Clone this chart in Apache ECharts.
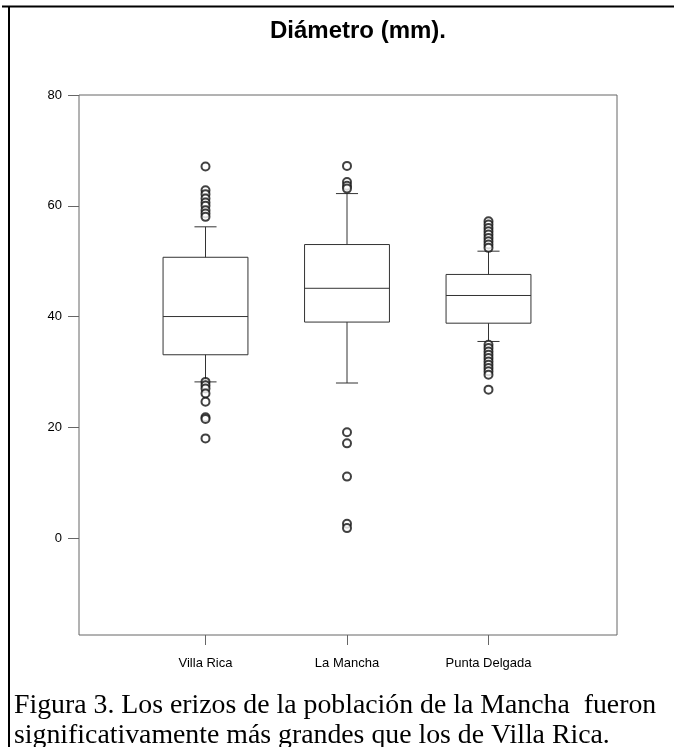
<!DOCTYPE html>
<html>
<head>
<meta charset="utf-8">
<script src="https://cdn.jsdelivr.net/npm/echarts@6/dist/echarts.min.js"></script>
<style>
html,body{margin:0;padding:0;background:#fff;}
#chart{width:674px;height:747px;}
</style>
</head>
<body>
<div id="chart"></div>
<script>
// ---- data ----
const categories = ['Villa Rica', 'La Mancha', 'Punta Delgada'];
const whiskerLow = [28.2, 28.0, 35.5];
const q1 = [33.1, 39.0, 38.8];
const median = [40.0, 45.1, 43.8];
const q3 = [50.7, 53.0, 47.6];
const whiskerHigh = [56.2, 62.2, 51.8];
const outliersVillaRica = [67.1, 62.8, 62.1, 61.3, 60.6, 60.0, 59.2, 58.6, 58.0, 28.2, 27.6, 27.0, 26.1, 24.6, 21.8, 21.5, 18.0];
const outliersLaMancha = [67.2, 64.3, 63.6, 63.1, 19.1, 17.1, 11.1, 2.6, 1.8];
const outliersPuntaDelgada = [57.2, 56.6, 56.0, 55.4, 54.8, 54.2, 53.6, 53.0, 52.4, 34.9, 34.3, 33.7, 33.1, 32.5, 31.9, 31.3, 30.7, 30.1, 29.5, 26.8];
const yTicks = [0, 20, 40, 60, 80];
const yMin = -17.5, yMax = 80;
const titleText = 'Diámetro (mm).';
const captionText = 'Figura 3. Los erizos de la población de la Mancha  fueron\nsignificativamente más grandes que los de Villa Rica.';

// ---- build ----
const boxData = categories.map((c, i) => [i, whiskerLow[i], q1[i], median[i], q3[i], whiskerHigh[i]]);
const outlierGroups = [outliersVillaRica, outliersLaMancha, outliersPuntaDelgada];
const outlierData = [];
outlierGroups.forEach((arr, i) => arr.forEach(v => outlierData.push([i, v])));

const lineColor = '#333';

function renderBox(params, api) {
  const x = api.value(0);
  const pLow = api.coord([x, api.value(1)]);
  const pQ1 = api.coord([x, api.value(2)]);
  const pMed = api.coord([x, api.value(3)]);
  const pQ3 = api.coord([x, api.value(4)]);
  const pHigh = api.coord([x, api.value(5)]);
  const band = api.size([1, 0])[0];
  const hw = band * 0.3;
  const cw = band * 0.078;
  const cx = pMed[0];
  const st = {stroke: lineColor, lineWidth: 1, fill: null};
  return {
    type: 'group',
    children: [
      {type: 'rect', shape: {x: cx - hw, y: pQ3[1], width: hw * 2, height: pQ1[1] - pQ3[1]}, style: {stroke: lineColor, lineWidth: 1, fill: '#fff'}},
      {type: 'line', shape: {x1: cx - hw, y1: pMed[1], x2: cx + hw, y2: pMed[1]}, style: st},
      {type: 'line', shape: {x1: cx, y1: pQ3[1], x2: cx, y2: pHigh[1]}, style: st},
      {type: 'line', shape: {x1: cx, y1: pQ1[1], x2: cx, y2: pLow[1]}, style: st},
      {type: 'line', shape: {x1: cx - cw, y1: pHigh[1], x2: cx + cw, y2: pHigh[1]}, style: st},
      {type: 'line', shape: {x1: cx - cw, y1: pLow[1], x2: cx + cw, y2: pLow[1]}, style: st}
    ]
  };
}

const chart = echarts.init(document.getElementById('chart'), null, {renderer: 'canvas'});
chart.setOption({
  animation: false,
  backgroundColor: '#fff',
  title: [
    {text: titleText, left: 358, top: 19, textAlign: 'center', padding: 0,
     textStyle: {fontFamily: 'Liberation Sans', fontWeight: 'bold', fontSize: 24, color: '#000'}},
    {text: captionText, left: 14, top: 691, padding: 0,
     textStyle: {fontFamily: 'Liberation Serif', fontWeight: 'normal', fontSize: 27.8, lineHeight: 30, color: '#000'}}
  ],
  graphic: [
    {type: 'line', shape: {x1: 2, y1: 6.5, x2: 674, y2: 6.5}, style: {stroke: '#000', lineWidth: 2}},
    {type: 'line', shape: {x1: 9, y1: 6, x2: 9, y2: 747}, style: {stroke: '#000', lineWidth: 2}}
  ],
  grid: [
    {left: 79, top: 95, width: 538, height: 540, show: true, borderColor: '#666', borderWidth: 1, backgroundColor: 'transparent'},
    {left: 134.75, top: 95, width: 424.5, height: 540, show: false}
  ],
  xAxis: [
    {gridIndex: 0, type: 'value', min: 0, max: 1, show: false},
    {gridIndex: 1, type: 'category', data: categories, boundaryGap: true, position: 'bottom',
     axisLine: {show: false, onZero: false},
     axisTick: {show: true, alignWithLabel: true, length: 10, lineStyle: {color: '#666'}},
     axisLabel: {margin: 22, fontFamily: 'Liberation Sans', fontSize: 13, color: '#000'},
     splitLine: {show: false}}
  ],
  yAxis: [
    {gridIndex: 0, type: 'value', min: yMin, max: yMax,
     axisLine: {show: false},
     axisTick: {show: true, inside: false, length: 11, customValues: yTicks, lineStyle: {color: '#666'}},
     axisLabel: {customValues: yTicks, margin: 17, fontFamily: 'Liberation Sans', fontSize: 13, color: '#000'},
     splitLine: {show: false}},
    {gridIndex: 1, type: 'value', min: yMin, max: yMax, show: false, splitLine: {show: false}}
  ],
  series: [
    {type: 'custom', xAxisIndex: 1, yAxisIndex: 1, renderItem: renderBox, data: boxData,
     encode: {x: 0, y: [1, 2, 3, 4, 5]}, z: 2},
    {type: 'scatter', xAxisIndex: 1, yAxisIndex: 1, data: outlierData, symbol: 'emptyCircle', symbolSize: 8,
     itemStyle: {color: '#111', borderColor: '#111', borderWidth: 0.7}, z: 3}
  ]
});
</script>
</body>
</html>
